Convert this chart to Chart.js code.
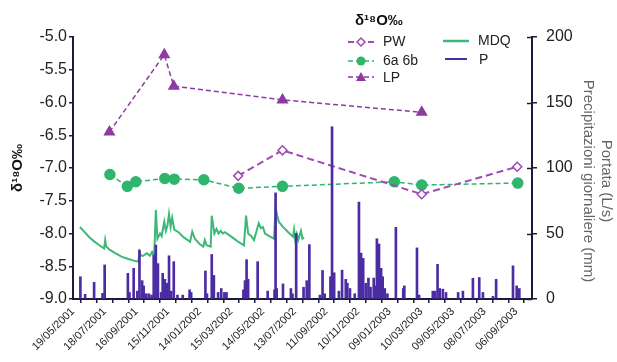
<!DOCTYPE html>
<html>
<head>
<meta charset="utf-8">
<script src="https://cdn.jsdelivr.net/npm/chart.js@4.4.1/dist/chart.umd.min.js"></script>
<style>
  html, body { margin: 0; padding: 0; background: #fff; }
  #wrap { width: 617px; height: 362px; }
</style>
</head>
<body>
<div id="wrap"><canvas id="isoChart" width="617" height="362"></canvas></div>
<script>
/* global Chart */

const xTickLabels = ['19/05/2001', '18/07/2001', '16/09/2001', '15/11/2001', '14/01/2002',
  '15/03/2002', '14/05/2002', '13/07/2002', '11/09/2002', '10/11/2002', '09/01/2003',
  '10/03/2003', '09/05/2003', '08/07/2003', '06/09/2003'];

const pwDates = ['2002-03-28', '2002-06-20', '2003-03-11', '2003-09-08'];
const pwValues = [-7.12, -6.73, -7.40, -6.98];

const sixDates = ['2001-07-28', '2001-08-30', '2001-09-15', '2001-11-09', '2001-11-27', '2002-01-22',
  '2002-03-29', '2002-06-20', '2003-01-18', '2003-03-11', '2003-09-09'];
const sixValues = [-7.10, -7.28, -7.21, -7.16, -7.17, -7.18, -7.31, -7.28, -7.21, -7.26, -7.23];

const lpDates = ['2001-07-27', '2001-11-08', '2001-11-26', '2002-06-20', '2003-03-11'];
const lpValues = [-6.45, -5.27, -5.75, -5.96, -6.15];

const mdqDates = ['2001-06-01', '2001-06-08', '2001-06-18', '2001-06-28', '2001-07-08', '2001-07-17',
  '2001-07-19', '2001-07-21', '2001-07-28', '2001-08-07', '2001-08-19', '2001-09-01', '2001-09-11',
  '2001-09-20', '2001-09-22', '2001-09-25', '2001-09-29', '2001-10-06', '2001-10-12', '2001-10-16',
  '2001-10-20', '2001-10-23', '2001-10-26', '2001-10-31', '2001-11-03', '2001-11-08', '2001-11-11',
  '2001-11-14', '2001-11-17', '2001-11-20', '2001-11-23', '2001-11-27', '2001-12-05', '2001-12-15',
  '2001-12-27', '2001-12-31', '2002-01-05', '2002-01-14', '2002-01-21', '2002-01-24', '2002-01-27',
  '2002-02-04', '2002-02-06', '2002-02-11', '2002-02-15', '2002-02-19', '2002-02-23', '2002-02-27',
  '2002-03-03', '2002-03-15', '2002-03-27', '2002-04-08', '2002-04-12', '2002-04-16', '2002-04-22',
  '2002-04-27', '2002-05-02', '2002-05-06', '2002-05-10', '2002-05-14', '2002-05-18', '2002-05-26',
  '2002-06-04', '2002-06-07', '2002-06-10', '2002-06-13', '2002-06-21', '2002-07-01', '2002-07-10',
  '2002-07-12', '2002-07-14', '2002-07-17', '2002-07-20', '2002-07-25', '2002-07-28', '2002-07-31'];
const mdqValues = [55, 52, 47.5, 44, 41, 38.5,
  45, 40, 37.5, 35, 32.3, 30.5, 29.3,
  28.5, 36, 33, 33, 35, 33, 36,
  33, 68, 46, 50, 48, 59, 52,
  56, 65, 55, 62, 53, 51, 47,
  43.7, 51.4, 46, 42, 40, 45, 41,
  40, 63.6, 50, 53.5, 50, 52, 50,
  51, 47.6, 44, 41, 63.6, 50, 48,
  45, 52, 57.8, 54, 55, 50, 48,
  46, 70, 64, 59, 55, 51, 47.6,
  53, 46, 50, 45, 52, 46, 47];

const pDates = ['2001-06-02', '2001-06-11', '2001-06-28', '2001-07-14', '2001-07-18', '2001-08-31',
  '2001-09-03', '2001-09-11', '2001-09-18', '2001-09-22', '2001-09-27', '2001-09-30', '2001-10-05',
  '2001-10-10', '2001-10-15', '2001-10-19', '2001-10-23', '2001-10-27', '2001-11-02', '2001-11-05',
  '2001-11-09', '2001-11-13', '2001-11-17', '2001-11-21', '2001-11-26', '2001-12-03', '2001-12-13',
  '2001-12-26', '2001-12-29', '2002-01-25', '2002-01-28', '2002-02-06', '2002-02-10', '2002-02-18',
  '2002-02-24', '2002-03-02', '2002-03-06', '2002-04-07', '2002-04-10', '2002-04-13', '2002-04-16',
  '2002-05-04', '2002-05-23', '2002-06-05', '2002-06-07', '2002-06-09', '2002-06-21', '2002-07-06',
  '2002-07-09', '2002-07-16', '2002-07-30', '2002-08-05', '2002-08-10', '2002-08-30', '2002-09-04',
  '2002-09-08', '2002-09-19', '2002-09-22', '2002-09-26', '2002-10-05', '2002-10-11', '2002-10-18',
  '2002-10-21', '2002-10-26', '2002-11-04', '2002-11-12', '2002-11-16', '2002-11-20', '2002-11-25',
  '2002-11-30', '2002-12-04', '2002-12-10', '2002-12-13', '2002-12-16', '2002-12-20', '2002-12-24',
  '2002-12-27', '2002-12-31', '2003-01-05', '2003-01-21', '2003-02-04', '2003-02-06', '2003-03-02',
  '2003-03-06', '2003-04-01', '2003-04-05', '2003-04-10', '2003-04-14', '2003-04-20', '2003-04-26',
  '2003-05-19', '2003-05-28', '2003-06-16', '2003-06-28', '2003-07-05', '2003-07-24', '2003-07-30',
  '2003-08-31', '2003-09-07', '2003-09-12'];
const pValues = [17, 3.6, 12.7, 4.3, 26, 19.6,
  5, 23.4, 6, 37.4, 14, 10, 4,
  4, 3, 33.6, 41.2, 27, 5, 19.6,
  15, 12, 33, 6, 28.5, 3, 3,
  7, 5, 21.4, 4, 34, 18, 5,
  8, 5, 5, 7, 14, 30, 15,
  28.5, 6, 7, 81, 8, 11.5, 8,
  4, 50, 9, 14, 41.5, 3, 21.8,
  4, 17, 131.5, 20, 6, 22, 15,
  12, 8, 4, 74, 35, 31, 12,
  16, 9, 16, 10, 46, 42, 23.4,
  17, 8, 4, 54.7, 8, 10, 39,
  3, 6, 6, 26.5, 8, 7.5, 5,
  5, 6, 15.8, 16.4, 5, 2, 15,
  25.3, 10, 8];

const START = Date.UTC(2001, 4, 19);
const X_MAX = 870;
const AXIS = '#1c1c3a';
const PURPLE = '#a04ab3';
const PURPLE_DARK = '#8e3aa3';
const GREEN = '#2fb56c';
const GREEN_LINE = '#3db877';
const BAR = '#4b2ca3';
const FONT = '"Liberation Sans", Arial, sans-serif';

function dayOf(s) {
  const p = s.split('-').map(Number);
  return (Date.UTC(p[0], p[1] - 1, p[2]) - START) / 86400000;
}

function pairs(dates, values) {
  return dates.map((d, i) => ({ x: dayOf(d), y: values[i] }));
}

/* right axis title + crossing ticks + legend box */
const extrasPlugin = {
  id: 'extras',
  afterDraw(chart) {
    const { ctx } = chart;
    const y2 = chart.scales.y2;

    ctx.save();
    ctx.strokeStyle = AXIS;
    ctx.lineWidth = 1.5;
    y2.ticks.forEach((t) => {
      const py = Math.round(y2.getPixelForValue(t.value)) + 0.5;
      ctx.beginPath();
      ctx.moveTo(y2.left - 5, py);
      ctx.lineTo(y2.left, py);
      ctx.stroke();
    });

    ctx.translate(606, 181);
    ctx.rotate(Math.PI / 2);
    ctx.fillStyle = '#666';
    ctx.font = `15px ${FONT}`;
    ctx.textAlign = 'center';
    ctx.textBaseline = 'middle';
    ctx.fillText('Portata (L/s)', 0, 0);
    ctx.fillText('Precipitazioni giornaliere (mm)', 0, 18);
    ctx.restore();

    // legend
    ctx.save();
    ctx.fillStyle = '#111';
    ctx.textBaseline = 'middle';
    ctx.textAlign = 'left';
    ctx.font = `bold 15px ${FONT}`;
    ctx.fillText('δ¹⁸O‰', 355, 21);

    const line = (x1, x2, y, color, width, dash) => {
      ctx.beginPath();
      ctx.setLineDash(dash);
      ctx.strokeStyle = color;
      ctx.lineWidth = width;
      ctx.moveTo(x1, y);
      ctx.lineTo(x2, y);
      ctx.stroke();
      ctx.setLineDash([]);
    };

    line(348, 374, 42, PURPLE, 2, [6, 4]);
    ctx.beginPath();
    ctx.moveTo(361, 38); ctx.lineTo(365, 42); ctx.lineTo(361, 46); ctx.lineTo(357, 42); ctx.closePath();
    ctx.fillStyle = '#fff'; ctx.fill();
    ctx.strokeStyle = PURPLE; ctx.lineWidth = 1.5; ctx.stroke();

    line(348, 374, 61, GREEN, 1.5, [5, 3]);
    ctx.beginPath();
    ctx.arc(361, 61, 4.5, 0, Math.PI * 2);
    ctx.fillStyle = GREEN; ctx.fill();

    line(348, 374, 77, PURPLE_DARK, 1.5, [5, 3]);
    ctx.beginPath();
    ctx.moveTo(361, 72); ctx.lineTo(366, 81); ctx.lineTo(356, 81); ctx.closePath();
    ctx.fillStyle = PURPLE_DARK; ctx.fill();

    line(443, 469, 41, GREEN_LINE, 2.5, []);
    line(445, 467, 59, BAR, 2, []);

    ctx.fillStyle = '#222';
    ctx.font = `14px ${FONT}`;
    ctx.fillText('PW', 383, 42);
    ctx.fillText('6a 6b', 383, 61);
    ctx.fillText('LP', 383, 78);
    ctx.fillText('MDQ', 478, 41);
    ctx.fillText('P', 479, 60);
    ctx.restore();
  },
};

function isotopeChart() {
  const datasets = [
    {
      type: 'bar',
      label: 'P',
      data: pairs(pDates, pValues),
      yAxisID: 'y2',
      backgroundColor: BAR,
      barThickness: 2,
      order: 0,
    },
    {
      type: 'line',
      label: 'MDQ',
      data: pairs(mdqDates, mdqValues),
      yAxisID: 'y2',
      borderColor: GREEN_LINE,
      borderWidth: 2,
      pointRadius: 0,
      tension: 0,
      order: 2,
    },
    {
      type: 'line',
      label: 'PW',
      data: pairs(pwDates, pwValues),
      yAxisID: 'y',
      borderColor: PURPLE,
      borderWidth: 2,
      borderDash: [7, 4],
      pointStyle: 'rectRot',
      pointRadius: 4.5,
      pointBackgroundColor: '#fff',
      pointBorderColor: PURPLE,
      pointBorderWidth: 1.5,
      order: 1,
    },
    {
      type: 'line',
      label: '6a 6b',
      data: pairs(sixDates, sixValues),
      yAxisID: 'y',
      borderColor: GREEN,
      borderWidth: 1.5,
      borderDash: [5, 3],
      pointStyle: 'circle',
      pointRadius: 5,
      pointBackgroundColor: GREEN,
      pointBorderColor: GREEN,
      order: 1,
    },
    {
      type: 'line',
      label: 'LP',
      data: pairs(lpDates, lpValues),
      yAxisID: 'y',
      borderColor: PURPLE_DARK,
      borderWidth: 1.5,
      borderDash: [5, 3],
      pointStyle: 'triangle',
      pointRadius: 5.5,
      pointBackgroundColor: PURPLE_DARK,
      pointBorderColor: PURPLE_DARK,
      order: 1,
    },
  ];

  const config = {
    type: 'line',
    data: { datasets },
    plugins: [extrasPlugin],
    options: {
      responsive: false,
      animation: false,
      layout: { padding: { top: 37, left: 0, right: 0, bottom: 0 } },
      plugins: { legend: { display: false }, tooltip: { enabled: false } },
      scales: {
        x: {
          type: 'linear',
          min: 0,
          max: X_MAX,
          offset: false,
          afterBuildTicks: (s) => {
            const ticks = [];
            for (let v = 0; v <= X_MAX; v += 30) ticks.push({ value: v });
            s.ticks = ticks;
          },
          afterFit: (s) => { s.height = 63; },
          ticks: {
            autoSkip: false,
            minRotation: 45,
            maxRotation: 45,
            padding: 2,
            color: '#222',
            font: { family: FONT, size: 11 },
            callback: (v) => (v % 60 === 0 ? (xTickLabels[v / 60] || '') : ''),
          },
          grid: { drawOnChartArea: false, tickLength: 4, color: AXIS, lineWidth: 1.5 },
          border: { color: AXIS, width: 2 },
        },
        y: {
          position: 'left',
          min: -9,
          max: -5,
          afterFit: (s) => { s.width = 73; },
          ticks: {
            stepSize: 0.5,
            padding: 2,
            color: '#222',
            font: { family: FONT, size: 16 },
            callback: (v) => v.toFixed(1),
          },
          grid: { drawOnChartArea: false, tickLength: 4, color: AXIS, lineWidth: 1.5 },
          border: { color: AXIS, width: 2 },
          title: {
            display: true,
            text: 'δ¹⁸O‰',
            color: '#111',
            font: { family: FONT, size: 15, weight: 'bold' },
            padding: { top: 9, bottom: 0 },
          },
        },
        y2: {
          position: 'right',
          min: 0,
          max: 200,
          afterFit: (s) => { s.width = 85; },
          ticks: {
            stepSize: 50,
            padding: 9,
            color: '#222',
            font: { family: FONT, size: 16 },
          },
          grid: { drawOnChartArea: false, tickLength: 5, color: AXIS, lineWidth: 1.5 },
          border: { color: AXIS, width: 2 },
        },
      },
    },
  };

  return new Chart(document.getElementById('isoChart'), config);
}

isotopeChart();
</script>
</body>
</html>
